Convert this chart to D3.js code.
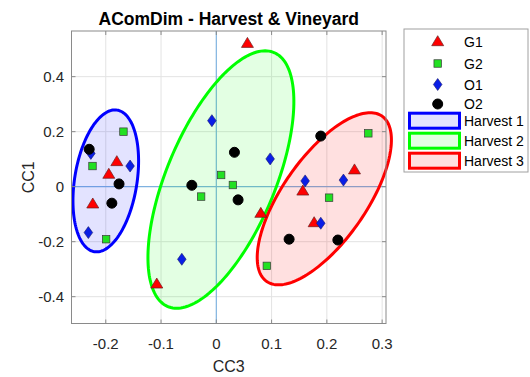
<!DOCTYPE html>
<html><head><meta charset="utf-8">
<script src="https://cdn.jsdelivr.net/npm/d3@7"></script>
<style>body{margin:0;background:#fff}svg{display:block;font-family:Arial,"Liberation Sans",Helvetica,sans-serif}</style>
</head><body><svg id="c" width="530" height="377"></svg>
<script>
// ---- data ----
const title = "AComDim - Harvest & Vineyard";
const xLabel = "CC3", yLabel = "CC1";
const xTicks = [-0.2, -0.1, 0, 0.1, 0.2, 0.3];
const xTickLabels = ["-0.2", "-0.1", "0", "0.1", "0.2", "0.3"];
const yTicks = [-0.4, -0.2, 0, 0.2, 0.4];
const yTickLabels = ["-0.4", "-0.2", "0", "0.2", "0.4"];
const xDomain = [-0.262, 0.307];
const yDomain = [-0.4975, 0.566];

const vineyards = ["G1", "G2", "O1", "O2"];
// CC3 (x) and CC1 (y) per vineyard, 3 samples per harvest (H1,H1,H1,H2,H2,H2,H3,H3,H3)
const G1_x = [-0.180, -0.1945, -0.2235, 0.0563, 0.0805, -0.1077, 0.250, 0.1565, 0.177];
const G1_y = [0.091, 0.045, -0.063, 0.521, -0.097, -0.354, 0.061, -0.016, -0.131];
const G2_x = [-0.168, -0.224, -0.1994, 0.0087, 0.030, -0.0275, 0.275, 0.204, 0.0914];
const G2_y = [0.200, 0.075, -0.191, 0.0425, 0.006, -0.036, 0.194, -0.040, -0.288];
const O1_x = [-0.227, -0.156, -0.2315, -0.008, 0.0974, -0.0624, 0.1607, 0.230, 0.189];
const O1_y = [0.121, 0.075, -0.167, 0.240, 0.101, -0.264, 0.021, 0.024, -0.133];
const O2_x = [-0.230, -0.176, -0.189, 0.0328, -0.0443, 0.0394, 0.189, 0.1317, 0.2199];
const O2_y = [0.136, 0.010, -0.060, 0.125, 0.005, -0.048, 0.184, -0.191, -0.194];

const harvests = ["Harvest 1", "Harvest 2", "Harvest 3"];
// ellipse: centre (x,y), first radius vector (x,y), second radius vector (x,y) in data units
const ellCx = [-0.200, 0.0083, 0.1954];
const ellCy = [0.021, 0.026, -0.044];
const ellAx = [0.0166, 0.080, 0.0829];
const ellAy = [0.258, 0.468, 0.313];
const ellBx = [0.057, 0.105, 0.0887];
const ellBy = [0, 0, 0];

// ---- styles ----
const harvestStroke = ["#0000ff", "#00ff00", "#ff0000"];
const harvestFill = ["rgba(0,0,255,0.11)", "rgba(0,255,0,0.11)", "rgba(255,0,0,0.12)"];

const svg = d3.select("#c");
const L = 71.5, R = 386, T = 31, B = 323.5;
const x = d3.scaleLinear().domain(xDomain).range([L, R]);
const y = d3.scaleLinear().domain(yDomain).range([B, T]);

// grid
const grid = svg.append("g");
grid.selectAll("line.gx").data(xTicks.filter(d => d !== 0)).join("line")
  .attr("x1", d => x(d)).attr("x2", d => x(d)).attr("y1", T).attr("y2", B)
  .attr("stroke", "#e3e3e3").attr("stroke-width", 1);
grid.selectAll("line.gy").data(yTicks.filter(d => d !== 0)).join("line")
  .attr("y1", d => y(d)).attr("y2", d => y(d)).attr("x1", L).attr("x2", R)
  .attr("stroke", "#e3e3e3").attr("stroke-width", 1);
// zero lines
svg.append("line").attr("x1", x(0)).attr("x2", x(0)).attr("y1", T).attr("y2", B)
  .attr("stroke", "#7fb2e0").attr("stroke-width", 1.2);
svg.append("line").attr("y1", y(0)).attr("y2", y(0)).attr("x1", L).attr("x2", R)
  .attr("stroke", "#7fb2e0").attr("stroke-width", 1.2);

// ellipses
const line = d3.line().x(d => x(d[0])).y(d => y(d[1])).curve(d3.curveLinearClosed);
const tt = d3.range(0, 2 * Math.PI, Math.PI / 90);
harvests.forEach((h, i) => {
  const pts = tt.map(t => [
    ellCx[i] + ellAx[i] * Math.cos(t) + ellBx[i] * Math.sin(t),
    ellCy[i] + ellAy[i] * Math.cos(t) + ellBy[i] * Math.sin(t)]);
  svg.append("path").attr("d", line(pts))
    .attr("fill", harvestFill[i]).attr("stroke", harvestStroke[i]).attr("stroke-width", 3);
});

// markers
const groups = [
  {name: "G1", xs: G1_x, ys: G1_y},
  {name: "G2", xs: G2_x, ys: G2_y},
  {name: "O1", xs: O1_x, ys: O1_y},
  {name: "O2", xs: O2_x, ys: O2_y}];
function marker(g, type, cx, cy) {
  if (type === "G1") {
    const w = 12, h = 10;
    g.append("path").attr("d", `M${cx},${cy - h * 0.6}L${cx + w / 2},${cy + h * 0.4}L${cx - w / 2},${cy + h * 0.4}Z`)
      .attr("fill", "#ff0000").attr("stroke", "#6a2020").attr("stroke-width", 0.7);
  } else if (type === "G2") {
    const s = 7.5;
    g.append("rect").attr("x", cx - s / 2).attr("y", cy - s / 2).attr("width", s).attr("height", s)
      .attr("fill", "#22e022").attr("stroke", "#3a3a3a").attr("stroke-width", 0.7);
  } else if (type === "O1") {
    const w = 4.3, h = 6;
    g.append("path").attr("d", `M${cx},${cy - h}L${cx + w},${cy}L${cx},${cy + h}L${cx - w},${cy}Z`)
      .attr("fill", "#0a1ee6").attr("stroke", "#1a1a6a").attr("stroke-width", 0.6);
  } else {
    g.append("circle").attr("cx", cx).attr("cy", cy).attr("r", 5)
      .attr("fill", "#000").attr("stroke", "#000");
  }
}
const mg = svg.append("g");
groups.forEach(gp => {
  gp.xs.forEach((v, k) => marker(mg, gp.name, x(v), y(gp.ys[k])));
});

// axes box and ticks
const axc = "#8a8a8a";
svg.append("rect").attr("x", L).attr("y", T).attr("width", R - L).attr("height", B - T)
  .attr("fill", "none").attr("stroke", axc).attr("stroke-width", 1);
const tl = 4;
xTicks.forEach(d => {
  svg.append("line").attr("x1", x(d)).attr("x2", x(d)).attr("y1", B).attr("y2", B - tl).attr("stroke", axc);
  svg.append("line").attr("x1", x(d)).attr("x2", x(d)).attr("y1", T).attr("y2", T + tl).attr("stroke", axc);
});
yTicks.forEach(d => {
  svg.append("line").attr("y1", y(d)).attr("y2", y(d)).attr("x1", L).attr("x2", L + tl).attr("stroke", axc);
  svg.append("line").attr("y1", y(d)).attr("y2", y(d)).attr("x1", R).attr("x2", R - tl).attr("stroke", axc);
});
const txt = "#262626";
svg.selectAll("text.xt").data(xTicks).join("text")
  .attr("x", d => x(d)).attr("y", 348.5).attr("text-anchor", "middle")
  .attr("font-size", 15).attr("fill", txt).text((d, i) => xTickLabels[i]);
svg.selectAll("text.yt").data(yTicks).join("text")
  .attr("x", 64).attr("y", d => y(d) + 5.5).attr("text-anchor", "end")
  .attr("font-size", 15).attr("fill", txt).text((d, i) => yTickLabels[i]);
svg.append("text").attr("x", (L + R) / 2).attr("y", 371.5).attr("text-anchor", "middle")
  .attr("font-size", 16).attr("fill", txt).text(xLabel);
svg.append("text").attr("transform", `translate(34,${(T + B) / 2}) rotate(-90)`)
  .attr("text-anchor", "middle").attr("font-size", 16).attr("fill", txt).text(yLabel);
svg.append("text").attr("x", (L + R) / 2).attr("y", 25).attr("text-anchor", "middle")
  .attr("font-size", 17.5).attr("font-weight", "bold").attr("fill", "#000").text(title);

// legend
const lg = svg.append("g");
lg.append("rect").attr("x", 404).attr("y", 29).attr("width", 124).attr("height", 143)
  .attr("fill", "#fff").attr("stroke", "#a0a0a0").attr("stroke-width", 1);
const legY = [41.7, 63.5, 84.5, 104];
vineyards.forEach((v, i) => {
  marker(lg, v, 437.7, legY[i]);
  lg.append("text").attr("x", 464).attr("y", legY[i] + 5).attr("font-size", 14).attr("fill", "#000").text(v);
});
const legHY = [120.7, 140.7, 160.7];
harvests.forEach((h, i) => {
  lg.append("rect").attr("x", 409.5).attr("y", legHY[i] - 7.5).attr("width", 50).attr("height", 15)
    .attr("fill", harvestFill[i]).attr("stroke", harvestStroke[i]).attr("stroke-width", 3);
  lg.append("text").attr("x", 464).attr("y", legHY[i] + 5).attr("font-size", 14).attr("fill", "#000").text(h);
});
</script></body></html>
